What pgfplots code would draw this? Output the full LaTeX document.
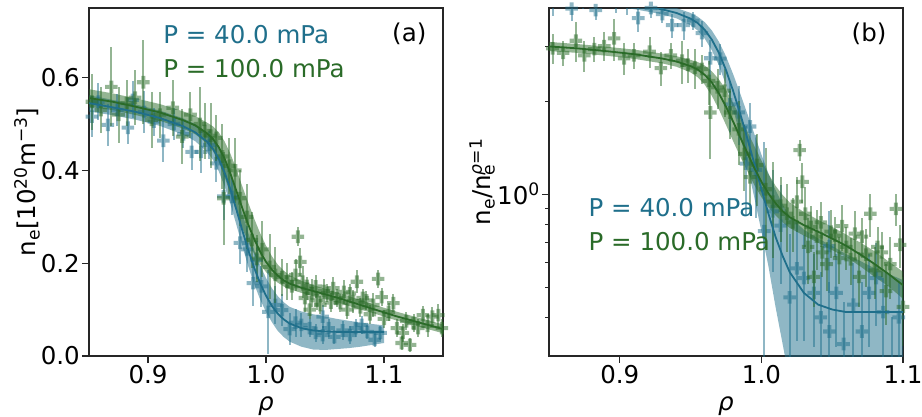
\documentclass[border=0pt]{standalone}
\usepackage{pgfplots}
\pgfplotsset{compat=1.18}
\usepackage{pgfplotstable}
\usepackage{fontspec}
\setmainfont{DejaVu Sans}
\definecolor{cblue}{HTML}{1F6F8B}
\definecolor{cgreen}{HTML}{2A6B28}
\newcommand{\bigf}{\fontsize{24.5}{29}\selectfont}

% filled plus, like matplotlib's "P" marker
\pgfdeclareplotmark{fplus}{%
  \pgfpathmoveto{\pgfqpoint{-0.32\pgfplotmarksize}{\pgfplotmarksize}}%
  \pgfpathlineto{\pgfqpoint{0.32\pgfplotmarksize}{\pgfplotmarksize}}%
  \pgfpathlineto{\pgfqpoint{0.32\pgfplotmarksize}{0.32\pgfplotmarksize}}%
  \pgfpathlineto{\pgfqpoint{\pgfplotmarksize}{0.32\pgfplotmarksize}}%
  \pgfpathlineto{\pgfqpoint{\pgfplotmarksize}{-0.32\pgfplotmarksize}}%
  \pgfpathlineto{\pgfqpoint{0.32\pgfplotmarksize}{-0.32\pgfplotmarksize}}%
  \pgfpathlineto{\pgfqpoint{0.32\pgfplotmarksize}{-\pgfplotmarksize}}%
  \pgfpathlineto{\pgfqpoint{-0.32\pgfplotmarksize}{-\pgfplotmarksize}}%
  \pgfpathlineto{\pgfqpoint{-0.32\pgfplotmarksize}{-0.32\pgfplotmarksize}}%
  \pgfpathlineto{\pgfqpoint{-\pgfplotmarksize}{-0.32\pgfplotmarksize}}%
  \pgfpathlineto{\pgfqpoint{-\pgfplotmarksize}{0.32\pgfplotmarksize}}%
  \pgfpathlineto{\pgfqpoint{-0.32\pgfplotmarksize}{0.32\pgfplotmarksize}}%
  \pgfpathclose\pgfusepathqfill}

% measured profiles: rho, n_e [1e20 m^-3], error
\pgfplotstableread{
x y e
0.8525 0.516 0.045
0.858 0.548 0.040
0.866 0.498 0.045
0.874 0.530 0.035
0.883 0.492 0.035
0.887 0.552 0.040
0.897 0.526 0.045
0.905 0.505 0.030
0.913 0.464 0.045
0.922 0.500 0.035
0.930 0.478 0.030
0.937 0.440 0.040
0.945 0.440 0.045
0.952 0.455 0.030
0.958 0.415 0.040
0.964 0.344 0.050
0.971 0.343 0.040
0.978 0.244 0.045
0.984 0.230 0.050
0.989 0.157 0.050
0.992 0.207 0.040
0.996 0.150 0.045
1.002 0.095 0.090
1.008 0.110 0.040
1.0136 0.099 0.035
1.020 0.058 0.035
1.025 0.072 0.030
1.030 0.067 0.025
1.037 0.060 0.020
1.042 0.050 0.020
1.048 0.085 0.025
1.048 0.045 0.020
1.053 0.060 0.020
1.058 0.041 0.015
1.065 0.055 0.020
1.071 0.045 0.020
1.076 0.060 0.020
1.081 0.067 0.020
1.086 0.052 0.015
1.092 0.035 0.015
1.097 0.050 0.015
}\blueData

\pgfplotstableread{
x y e
0.8525 0.548 0.060
0.860 0.530 0.050
0.869 0.580 0.085
0.875 0.520 0.060
0.882 0.545 0.050
0.889 0.557 0.060
0.896 0.590 0.090
0.903 0.509 0.060
0.910 0.520 0.050
0.921 0.535 0.060
0.929 0.473 0.060
0.936 0.520 0.050
0.944 0.500 0.080
0.948 0.485 0.060
0.953 0.475 0.070
0.958 0.470 0.050
0.963 0.430 0.070
0.964 0.340 0.100
0.969 0.410 0.060
0.974 0.400 0.070
0.978 0.340 0.060
0.984 0.300 0.070
0.988 0.250 0.060
0.992 0.210 0.050
0.997 0.230 0.060
1.003 0.192 0.070
1.008 0.175 0.060
1.0136 0.170 0.040
1.018 0.160 0.040
1.022 0.150 0.030
1.025 0.175 0.035
1.027 0.257 0.020
1.029 0.203 0.030
1.031 0.160 0.035
1.033 0.125 0.030
1.035 0.145 0.025
1.037 0.100 0.020
1.039 0.135 0.030
1.042 0.150 0.025
1.043 0.120 0.020
1.046 0.110 0.020
1.049 0.140 0.025
1.052 0.136 0.020
1.055 0.115 0.020
1.057 0.146 0.025
1.060 0.125 0.020
1.063 0.114 0.020
1.066 0.138 0.025
1.069 0.100 0.020
1.071 0.135 0.020
1.074 0.118 0.025
1.077 0.160 0.025
1.080 0.105 0.020
1.082 0.125 0.020
1.085 0.120 0.020
1.088 0.090 0.020
1.091 0.110 0.025
1.095 0.166 0.020
1.098 0.127 0.020
1.100 0.080 0.020
1.104 0.095 0.020
1.108 0.114 0.020
1.111 0.060 0.020
1.115 0.028 0.015
1.116 0.050 0.020
1.119 0.075 0.020
1.122 0.024 0.015
1.125 0.071 0.020
1.129 0.060 0.020
1.133 0.088 0.020
1.137 0.065 0.025
1.141 0.085 0.020
1.146 0.088 0.025
1.149 0.060 0.020
}\greenData

% fits
\pgfplotstableread{
x y
0.85 0.545
0.87 0.536
0.89 0.526
0.91 0.513
0.93 0.495
0.94 0.482
0.95 0.462
0.955 0.447
0.96 0.425
0.965 0.395
0.97 0.358
0.975 0.315
0.98 0.270
0.985 0.228
0.99 0.190
0.995 0.157
1.00 0.130
1.005 0.108
1.01 0.091
1.015 0.079
1.02 0.070
1.03 0.060
1.04 0.055
1.05 0.053
1.06 0.052
1.08 0.052
1.10 0.052
}\blueFit

\pgfplotstableread{
x y
0.85 0.556
0.87 0.548
0.89 0.537
0.91 0.525
0.93 0.508
0.94 0.497
0.95 0.480
0.955 0.468
0.96 0.450
0.965 0.425
0.97 0.392
0.975 0.355
0.98 0.318
0.985 0.283
0.99 0.252
0.995 0.225
1.00 0.203
1.005 0.186
1.01 0.173
1.015 0.163
1.02 0.156
1.03 0.147
1.04 0.140
1.05 0.133
1.06 0.126
1.07 0.118
1.08 0.110
1.09 0.102
1.10 0.094
1.11 0.086
1.12 0.079
1.13 0.072
1.14 0.065
1.15 0.058
}\greenFit

% uncertainty bands, upper edge left to right then lower edge back
\pgfplotstableread{
x y
0.85 0.562
0.87 0.552
0.89 0.542
0.91 0.529
0.93 0.512
0.94 0.500
0.95 0.482
0.955 0.469
0.96 0.450
0.965 0.423
0.97 0.389
0.975 0.349
0.98 0.306
0.985 0.265
0.99 0.228
0.995 0.196
1.00 0.168
1.005 0.146
1.01 0.129
1.015 0.116
1.02 0.106
1.03 0.096
1.04 0.090
1.05 0.085
1.06 0.080
1.07 0.076
1.08 0.072
1.09 0.069
1.10 0.066
1.10 0.028
1.09 0.024
1.08 0.020
1.07 0.017
1.06 0.015
1.05 0.013
1.04 0.014
1.03 0.020
1.02 0.031
1.015 0.041
1.01 0.054
1.005 0.073
1.00 0.095
0.995 0.122
0.99 0.155
0.985 0.193
0.98 0.236
0.975 0.282
0.97 0.326
0.965 0.365
0.96 0.398
0.955 0.423
0.95 0.440
0.94 0.463
0.93 0.477
0.91 0.496
0.89 0.509
0.87 0.519
0.85 0.527
}\blueBand

\pgfplotstableread{
x y
0.85 0.575
0.87 0.566
0.89 0.555
0.91 0.543
0.93 0.527
0.94 0.517
0.95 0.503
0.955 0.495
0.96 0.482
0.965 0.462
0.97 0.435
0.975 0.402
0.98 0.365
0.985 0.330
0.99 0.296
0.995 0.265
1.00 0.238
1.005 0.215
1.01 0.197
1.015 0.184
1.02 0.174
1.03 0.162
1.04 0.153
1.05 0.145
1.06 0.137
1.07 0.129
1.08 0.121
1.09 0.112
1.10 0.104
1.11 0.096
1.12 0.089
1.13 0.082
1.14 0.075
1.15 0.068
1.15 0.049
1.14 0.056
1.13 0.063
1.12 0.070
1.11 0.077
1.10 0.085
1.09 0.093
1.08 0.100
1.07 0.108
1.06 0.116
1.05 0.122
1.04 0.129
1.03 0.136
1.02 0.144
1.015 0.150
1.01 0.158
1.005 0.168
1.00 0.181
0.995 0.198
0.99 0.220
0.985 0.245
0.98 0.275
0.975 0.310
0.97 0.348
0.965 0.385
0.96 0.418
0.955 0.442
0.95 0.458
0.94 0.478
0.93 0.490
0.91 0.507
0.89 0.519
0.87 0.530
0.85 0.537
}\greenBand

\pgfplotsset{
  panel/.style={
    scale only axis, width=354pt, height=348pt,
    anchor=south west,
    axis line style={black!85, line width=1.1pt},
    tick align=outside, tick pos=left,
    major tick length=7pt, minor tick length=4pt,
    every tick/.style={black!85, line width=1.1pt},
    every tick label/.append style={font=\bigf, inner sep=2pt},
    label style={font=\bigf},
    /pgf/number format/assume math mode=true,
    xticklabel style={/pgf/number format/.cd, fixed, fixed zerofill, precision=1},
    xlabel={\textit{ρ}},
    xlabel style={at={(axis description cs:0.5,-0.143)}, anchor=center, inner sep=1pt},
    clip mode=individual,
  },
  pts/.style={only marks, mark=fplus, mark size=6.3pt,
    mark options={fill opacity=0.5, draw opacity=0.5},
    error bars/y dir=both, error bars/y explicit, error bars/error mark=none,
    error bars/error bar style={line width=2pt, opacity=0.5}},
  fitline/.style={no marks, line width=1.8pt},
}

\begin{document}
\begin{tikzpicture}
\useasboundingbox (0,0) rectangle (922pt,416pt);

% (a) absolute density
\begin{axis}[panel, at={(89pt,60pt)},
  xmin=0.85, xmax=1.15, ymin=0, ymax=0.75,
  xtick={0.9,1.0,1.1}, ytick={0,0.2,0.4,0.6},
  yticklabel style={/pgf/number format/.cd, fixed, fixed zerofill, precision=1},
  ylabel={n\textsubscript{e}[10\textsuperscript{20}m\textsuperscript{−3}]},
  ylabel style={at={(axis description cs:-0.175,0.5)}, anchor=center},
]
\addplot[fill=cblue, fill opacity=0.5, draw=none] table[x=x,y=y] {\blueBand} -- cycle;
\addplot[fill=cgreen, fill opacity=0.5, draw=none] table[x=x,y=y] {\greenBand} -- cycle;
\addplot[pts, color=cblue] table[x=x, y=y, y error=e] {\blueData};
\addplot[pts, color=cgreen] table[x=x, y=y, y error=e] {\greenData};
\addplot[fitline, color=cblue] table[x=x,y=y] {\blueFit};
\addplot[fitline, color=cgreen] table[x=x,y=y] {\greenFit};
\node[anchor=base west, text=cblue, font=\bigf] at (axis description cs:0.2,0.899) {P = 40.0 mPa};
\node[anchor=base west, text=cgreen, font=\bigf] at (axis description cs:0.2,0.801) {P = 100.0 mPa};
\node[anchor=base east, font=\bigf] at (axis description cs:0.963,0.905) {(a)};
\end{axis}

% (b) normalised to the value at rho = 1
\begin{axis}[panel, at={(549pt,60pt)},
  ymode=log, xmin=0.85, xmax=1.1, ymin=0.3, ymax=4,
  xtick={0.9,1.0,1.1}, ytick={1}, yticklabels={10\textsuperscript{0}},
  minor ytick={0.4,0.5,0.6,0.7,0.8,0.9,2,3},
  ylabel={n\textsubscript{e}/n\rlap{\textsubscript{e}}\textsuperscript{\textit{ρ}=1}},
  ylabel style={at={(axis description cs:-0.189,0.5)}, anchor=center},
]
\addplot[fill=cblue, fill opacity=0.5, draw=none] table[x=x, y expr=\thisrow{y}/0.125] {\blueBand} -- cycle;
\addplot[fill=cgreen, fill opacity=0.5, draw=none] table[x=x, y expr=\thisrow{y}/0.185] {\greenBand} -- cycle;
\addplot[pts, color=cblue] table[x=x, y expr=\thisrow{y}/0.125, y error expr=\thisrow{e}/0.125] {\blueData};
\addplot[pts, color=cgreen] table[x=x, y expr=\thisrow{y}/0.185, y error expr=\thisrow{e}/0.185] {\greenData};
\addplot[fitline, color=cblue] table[x=x, y expr=\thisrow{y}/0.125] {\blueFit};
\addplot[fitline, color=cgreen] table[x=x, y expr=\thisrow{y}/0.185] {\greenFit};
\node[anchor=base west, text=cblue, font=\bigf] at (axis description cs:0.102,0.40) {P = 40.0 mPa};
\node[anchor=base west, text=cgreen, font=\bigf] at (axis description cs:0.102,0.3026) {P = 100.0 mPa};
\node[anchor=base east, font=\bigf] at (axis description cs:0.963,0.905) {(b)};
\end{axis}
\end{tikzpicture}
\end{document}
